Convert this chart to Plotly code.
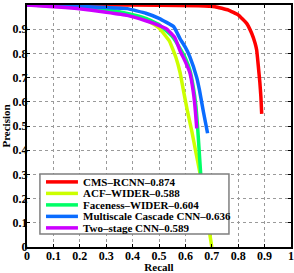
import plotly.graph_objects as go

names = ["CMS–RCNN–0.874", "ACF–WIDER–0.588", "Faceness–WIDER–0.604",
         "Multiscale Cascade CNN–0.636", "Two–stage CNN–0.589"]
colors = ["#FF0000", "#CCFF00", "#00FF66", "#0A6CFF", "#CC00FF"]

cms_recall = [0.0, 0.3, 0.5, 0.65, 0.712, 0.763, 0.80, 0.832, 0.851, 0.864, 0.870, 0.876, 0.882, 0.886, 0.889]
cms_prec = [1.0, 1.0, 0.999, 0.997, 0.993, 0.979, 0.959, 0.924, 0.883, 0.842, 0.814, 0.75, 0.68, 0.62, 0.55]

acf_recall = [0.0, 0.1, 0.2, 0.3, 0.38, 0.45, 0.5, 0.54, 0.565, 0.58, 0.592, 0.608, 0.624, 0.64, 0.655, 0.67, 0.685, 0.70]
acf_prec = [1.0, 0.997, 0.991, 0.98, 0.962, 0.94, 0.905, 0.85, 0.78, 0.72, 0.65, 0.56, 0.48, 0.39, 0.306, 0.21, 0.105, 0.0]

face_recall = [0.0, 0.1, 0.2, 0.3, 0.38, 0.45, 0.5, 0.55, 0.58, 0.6, 0.617, 0.63, 0.64, 0.646, 0.652, 0.658, 0.664]
face_prec = [1.0, 0.997, 0.992, 0.982, 0.965, 0.945, 0.92, 0.87, 0.82, 0.78, 0.73, 0.66, 0.58, 0.5, 0.4, 0.3, 0.2]

msc_recall = [0.0, 0.1, 0.2, 0.3, 0.38, 0.45, 0.5, 0.556, 0.58, 0.6, 0.617, 0.643, 0.653, 0.668, 0.684]
msc_prec = [1.0, 0.998, 0.994, 0.99, 0.985, 0.966, 0.945, 0.91, 0.86, 0.825, 0.786, 0.70, 0.65, 0.56, 0.47]

two_recall = [0.0, 0.1, 0.19, 0.3, 0.38, 0.45, 0.48, 0.53, 0.56, 0.58, 0.6, 0.617, 0.63, 0.638, 0.643]
two_prec = [1.0, 0.993, 0.986, 0.97, 0.957, 0.935, 0.924, 0.90, 0.865, 0.81, 0.765, 0.72, 0.64, 0.56, 0.49]

tick_vals = [0, 0.1, 0.2, 0.3, 0.4, 0.5, 0.6, 0.7, 0.8, 0.9, 1]
tick_text = ["0", "0.1", "0.2", "0.3", "0.4", "0.5", "0.6", "0.7", "0.8", "0.9", "1"]

series = [(cms_recall, cms_prec), (acf_recall, acf_prec), (face_recall, face_prec),
          (msc_recall, msc_prec), (two_recall, two_prec)]

FONT = "Liberation Serif, Times New Roman, serif"

fig = go.Figure()
for (xr, yp), name, col in zip(series, names, colors):
    fig.add_trace(go.Scatter(x=xr, y=yp, mode="lines", name=name,
                             line=dict(color=col, width=3.5, shape="spline", smoothing=0.3),
                             showlegend=False, cliponaxis=True))

axis_common = dict(
    range=[0, 1], tickvals=tick_vals, ticktext=tick_text, automargin=False,
    showgrid=True, gridcolor="#9a9a9a", gridwidth=1, griddash="dot",
    showline=True, linecolor="black", linewidth=2, mirror="ticks",
    ticks="inside", ticklen=3, tickcolor="black", tickwidth=1,
    zeroline=False,
    tickfont=dict(family=FONT, size=12, color="black", weight="bold"),
)

fig.update_xaxes(**axis_common, ticklabelstandoff=-3,
                 title=dict(text="Recall", font=dict(family=FONT, size=11, color="black", weight="bold"),
                            standoff=4))
fig.update_yaxes(**axis_common, ticklabelstandoff=-5,
                 title=dict(text="Precision", font=dict(family=FONT, size=11, color="black", weight="bold"),
                            standoff=0))

# manual compact legend (MATLAB-style)
box_x0, box_x1, box_y0, box_y1 = 0.049, 0.765, 0.054, 0.302
row_top, row_step = 0.269, 0.0475
shapes = [dict(type="rect", xref="paper", yref="paper", x0=box_x0, x1=box_x1, y0=box_y0, y1=box_y1,
               fillcolor="white", line=dict(color="#7f7f7f", width=1.5), layer="above")]
annotations = []
for i, (name, col) in enumerate(zip(names, colors)):
    yy = row_top - i * row_step
    shapes.append(dict(type="line", xref="paper", yref="paper", x0=0.072, x1=0.193, y0=yy, y1=yy,
                       line=dict(color=col, width=3.5), layer="above"))
    annotations.append(dict(xref="paper", yref="paper", x=0.205, y=yy, xanchor="left", yanchor="middle",
                            text=name, showarrow=False,
                            font=dict(family=FONT, size=11, color="black", weight="bold")))

fig.update_layout(
    width=294, height=273,
    margin=dict(l=27, r=3, t=5, b=26, autoexpand=False),
    paper_bgcolor="white", plot_bgcolor="white",
    shapes=shapes, annotations=annotations,
    showlegend=False,
)

fig.write_html("out.html", config={"displayModeBar": False},
               post_script="document.body.style.margin='0';document.body.style.overflow='hidden';")
